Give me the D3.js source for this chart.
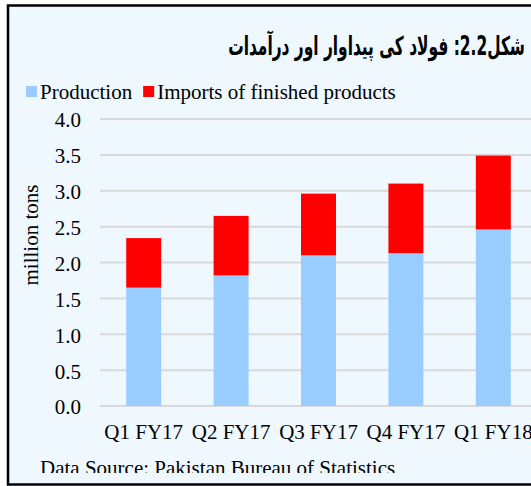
<!DOCTYPE html>
<html>
<head>
<meta charset="utf-8">
<script src="https://cdn.jsdelivr.net/npm/d3@7"></script>
<style>
  html, body { margin: 0; padding: 0; background: white; }
  svg { display: block; }
</style>
</head>
<body>
<svg width="531" height="486"></svg>
<script>
const categories = ['Q1 FY17', 'Q2 FY17', 'Q3 FY17', 'Q4 FY17', 'Q1 FY18']
const production = [1.65, 1.82, 2.10, 2.13, 2.46]
const imports = [0.69, 0.83, 0.86, 0.97, 1.03]
const seriesNames = ['Production', 'Imports of finished products']
const seriesColors = ['#99CCFF', '#FF0000']
const yTicks = [0, 0.5, 1, 1.5, 2, 2.5, 3, 3.5, 4]

const serif = "'Liberation Serif', 'Times New Roman', serif"
const svg = d3.select('svg')

// frame (right edge falls off the picture)
svg.append('rect')
  .attr('x', 8).attr('y', 5.5)
  .attr('width', 700).attr('height', 479)
  .attr('fill', '#EFF8FE')
  .attr('stroke', '#000').attr('stroke-width', 2.5)

// title, scaled to the width it takes in the original
const title = svg.append('text')
  .attr('direction', 'rtl')
  .attr('font-family', "'DejaVu Sans', sans-serif")
  .attr('font-weight', 'bold')
  .attr('font-size', 20)
  .text('شکل2.2: فولاد کی پیداوار اور درآمدات')
const tb = title.node().getBBox()
const sx = 297 / tb.width, sy = 34 / tb.height
title.attr('transform',
  `translate(${228 - tb.x * sx} ${29 - tb.y * sy}) scale(${sx} ${sy})`)

// scales
const margin = { left: 100, top: 119, bottom: 406 }
const x = d3.scaleBand()
  .domain(categories)
  .range([margin.left, margin.left + 437])
  .paddingInner(0.6)
  .paddingOuter(0.3)
const y = d3.scaleLinear().domain([0, 4]).range([margin.bottom, margin.top])

// gridlines
svg.append('g')
  .selectAll('line')
  .data(yTicks)
  .join('line')
  .attr('x1', margin.left).attr('x2', 531)
  .attr('y1', d => y(d)).attr('y2', d => y(d))
  .attr('stroke', '#D9D9D9').attr('stroke-width', 2)

// y axis labels
const yAxis = svg.append('g')
  .attr('transform', `translate(81,0)`)
  .call(d3.axisLeft(y).tickValues(yTicks).tickFormat(d3.format('.1f')).tickSize(0).tickPadding(0))
yAxis.select('.domain').remove()
yAxis.selectAll('text')
  .attr('font-family', serif).attr('font-size', 21).attr('fill', '#000')
  .attr('dy', '0.38em')

// x axis labels
const xAxis = svg.append('g')
  .attr('transform', `translate(0,${margin.bottom})`)
  .call(d3.axisBottom(x).tickSize(0).tickPadding(18))
xAxis.select('.domain').remove()
xAxis.selectAll('text')
  .attr('font-family', serif).attr('font-size', 21).attr('fill', '#000')

// stacked bars
const rows = categories.map((c, i) => ({ cat: c, p: production[i], m: imports[i] }))
const stacked = d3.stack().keys(['p', 'm'])(rows)
svg.append('g')
  .selectAll('g')
  .data(stacked)
  .join('g')
  .attr('fill', (d, i) => seriesColors[i])
  .selectAll('rect')
  .data(d => d)
  .join('rect')
  .attr('x', d => x(d.data.cat))
  .attr('width', x.bandwidth())
  .attr('y', d => y(d[1]))
  .attr('height', d => y(d[0]) - y(d[1]))

// legend
const legend = svg.append('g')
let lx = 26
seriesNames.forEach((name, i) => {
  legend.append('rect')
    .attr('x', lx).attr('y', 86)
    .attr('width', 11).attr('height', 11)
    .attr('fill', seriesColors[i])
  const t = legend.append('text')
    .attr('x', lx + 14).attr('y', 99)
    .attr('font-family', serif).attr('font-size', 21)
    .text(name)
  lx += 14 + t.node().getComputedTextLength() + 11
})

// y title
svg.append('text')
  .attr('transform', 'translate(38,235) rotate(-90)')
  .attr('text-anchor', 'middle')
  .attr('font-family', serif).attr('font-size', 21)
  .text('million tons')

// source note, clipped at the bottom like the original
svg.append('clipPath').attr('id', 'srcclip')
  .append('rect').attr('x', 0).attr('y', 440).attr('width', 531).attr('height', 33)
svg.append('text')
  .attr('clip-path', 'url(#srcclip)')
  .attr('x', 40).attr('y', 475)
  .attr('font-family', serif).attr('font-size', 21)
  .text('Data Source: Pakistan Bureau of Statistics')
</script>
</body>
</html>
